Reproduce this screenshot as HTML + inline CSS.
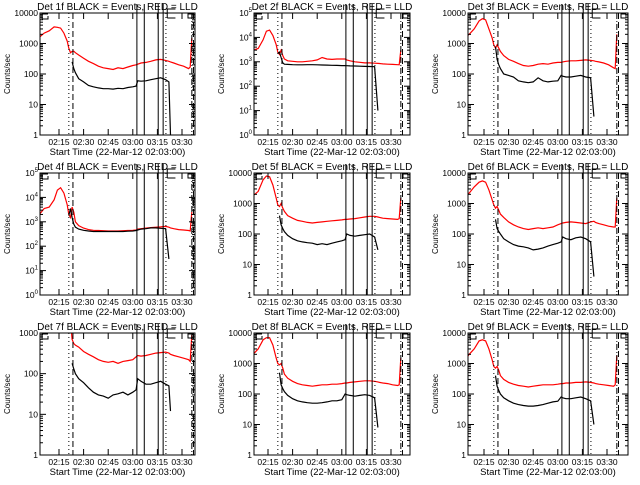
<!DOCTYPE html>
<html><head><meta charset="utf-8"><style>
body{margin:0;background:#fff}
svg{font-size:8px}
svg text{font-family:"Liberation Sans",sans-serif;fill:#000}
</style></head><body>
<svg id="c" width="640" height="480" viewBox="0 0 640 480"></svg>
<script>
// minutes after 02:15 (negative = before)
const times = [-12,-9,-6,-3,-1,1,3,5,6,7,8,9,10,12,15,18,21,24,27,30,33,36,39,42,45,47,48,50,53,56,59,62,65,67,68,70,73,76,79,80,81];
const xTickLabels = ["02:15","02:30","02:45","03:00","03:15","03:30"];
const xTickMinutes = [0,15,30,45,60,75];
const detNames = ["1f","2f","3f","4f","5f","6f","7f","8f","9f"];
const yDecades = [[0,4],[0,5],[0,4],[0,5],[0,4],[0,4],[0,3],[0,4],[0,4]];
const N=null;
const red1 = [1600,2200,2600,3500,3400,3200,2200,1200,700,500,550,560,500,420,330,260,220,180,160,150,140,160,150,170,190,200,210,230,240,260,290,300,280,260,250,230,200,180,150,170,1500];
const blk1 = [N,N,N,N,N,N,N,N,N,N,250,150,110,70,55,42,38,35,33,33,32,34,33,36,38,40,60,58,60,65,70,75,65,55,1,N,N,N,N,N,N];
const red2 = [2500,3000,3500,8000,18000,20000,12000,5000,2500,2000,3000,1800,1300,1100,1050,1000,1000,1050,1100,1200,1500,1300,1250,1300,1300,1300,1200,1100,1000,950,900,900,880,860,850,820,800,780,760,750,3000];
const blk2 = [N,N,N,N,N,N,N,N,2200,2500,1500,900,800,780,760,750,750,760,760,750,740,730,720,710,700,700,690,680,670,660,650,640,630,10,N,N,N,N,N,N,N];
const red3 = [1500,2000,3000,5500,6500,6000,3000,1500,900,700,900,700,550,400,300,260,220,190,180,190,210,220,210,230,240,240,250,260,270,270,280,290,280,270,260,250,230,200,160,150,2000];
const blk3 = [N,N,N,N,N,N,N,N,N,800,300,200,150,100,90,80,60,55,52,55,75,60,55,58,60,90,85,80,80,85,90,80,75,4,N,N,N,N,N,N,N];
const red4 = [2000,3500,4000,8000,20000,25000,15000,5000,2000,1500,4000,2500,1000,700,550,480,450,440,430,420,420,420,430,440,450,460,500,520,550,580,600,620,650,600,560,520,480,460,440,420,2500];
const blk4 = [N,N,N,N,N,N,N,N,1800,3500,1500,800,600,500,450,420,400,400,400,400,400,400,400,410,420,440,460,500,520,560,560,540,520,30,N,N,N,N,N,N,N];
const red5 = [1200,1800,2500,6000,8000,7500,4000,1500,900,800,1000,700,550,400,330,280,260,240,230,240,250,260,270,280,290,300,300,310,320,340,360,380,380,360,350,330,320,310,300,320,1500];
const blk5 = [N,N,N,N,N,N,N,N,N,400,200,150,120,90,70,60,55,52,50,45,48,45,50,55,60,65,100,90,85,90,95,100,80,30,N,N,N,N,N,N,N];
const red6 = [1500,2200,3500,5000,5500,5000,2800,1300,900,700,800,600,450,350,250,200,170,150,140,150,160,150,160,170,200,220,230,240,250,240,230,220,250,260,240,220,200,180,170,170,1500];
const blk6 = [N,N,N,N,N,N,N,N,N,300,150,120,100,70,55,45,40,38,35,30,32,35,40,45,50,55,80,70,65,75,80,70,55,4,N,N,N,N,N,N,N];
const red7 = [N,N,N,N,N,N,N,N,N,2000,700,550,500,450,350,300,260,220,200,190,200,180,200,210,220,260,280,270,280,300,320,330,340,320,300,280,260,240,220,200,900];
const blk7 = [N,N,N,N,N,N,N,N,N,N,180,130,100,75,60,45,35,30,28,25,30,32,35,30,35,40,75,65,55,55,60,65,55,50,12,N,N,N,N,N,N];
const red8 = [1200,2000,3000,6000,7000,7000,4000,1500,1000,900,1000,700,450,330,260,220,200,190,180,190,200,200,210,210,220,230,230,240,250,260,270,270,260,250,240,230,220,200,190,200,1500];
const blk8 = [N,N,N,N,N,N,N,N,N,500,200,150,120,90,70,60,55,52,50,50,52,55,60,60,65,100,95,90,85,90,95,90,75,8,N,N,N,N,N,N,N];
const red9 = [1200,2000,3000,5500,6000,5500,3000,1300,800,700,800,600,400,300,240,210,190,180,170,180,190,200,200,200,210,220,220,230,230,240,240,250,240,230,220,210,200,190,180,200,1800];
const blk9 = [N,N,N,N,N,N,N,N,N,400,180,130,100,75,60,50,45,42,40,40,42,45,50,55,58,80,75,70,70,75,80,70,60,10,N,N,N,N,N,N,N];
const reds=[red1,red2,red3,red4,red5,red6,red7,red8,red9];
const blks=[blk1,blk2,blk3,blk4,blk5,blk6,blk7,blk8,blk9];

const svg=document.getElementById('c');
const NS='http://www.w3.org/2000/svg';
function mk(t,a,p){const e=document.createElementNS(NS,t);for(const k in a)e.setAttribute(k,a[k]);(p||svg).appendChild(e);return e;}
const colX=[40,254,468], colW=[155,156,160], tick0=[19,14,16];
const rowY=[13,173,333], H=122, PPM=1.64;

for(let p=0;p<9;p++){
  const c=p%3,r=Math.floor(p/3);
  const x0=colX[c],y0=rowY[r],W=colW[c];
  const g=mk('g',{},svg);
  
  
  const [d0,d1]=yDecades[p];
  const xs=t=>x0+tick0[c]+t*PPM;
  const ys=v=>y0+H-(Math.log10(v)-d0)/(d1-d0)*H;
  const clipId='cl'+p;
  const cp=mk('clipPath',{id:clipId},g);mk('rect',{x:x0,y:y0,width:W,height:H},cp);
  function series(arr,col,name){
    let pts=[];const segs=[];
    times.forEach((t,i)=>{const v=arr[i];if(v==null){if(pts.length)segs.push(pts);pts=[];}else{pts.push(xs(t).toFixed(1)+','+ys(v).toFixed(1));}});
    if(pts.length)segs.push(pts);
    segs.forEach(s=>{const l=mk('polyline',{points:s.join(' '),fill:'none',stroke:col,'stroke-width':1.2,'clip-path':'url(#'+clipId+')'},g);
      
      });
  }
  series(reds[p],'#f00','red-lld-line');
  series(blks[p],'#000','black-events-line');
  const vl=[[6,'1,3',0],[8.5,'6,3',0],[47.5,'',1],[52,'',1],[60.5,'',1],[63.5,'',1],[65.2,'1,3',0],[81,'6,2,1,2',0],[82,'6,3',0]];
  vl.forEach(v=>{const x=xs(v[0]);const l=mk('line',{x1:x,x2:x,y1:v[2]?y0-9:y0,y2:y0+H,stroke:'#000','stroke-width':1,'stroke-dasharray':v[1]},g);
    
    });
  mk('path',{d:`M${x0+2} ${y0+6}V${y0+1}H${x0+8}M${x0+2} ${y0+6}H${x0+8}V${y0+3} M${xs(66)} ${y0+5}H${xs(71)}M${xs(66)} ${y0+5}V${y0-4}H${xs(71)} M${x0+W-2} ${y0+5}H${x0+W-7}V${y0+1}H${x0+W-2}`,fill:'none',stroke:'#000'},g);
  const b=mk('rect',{x:x0,y:y0,width:W,height:H,fill:'none',stroke:'#000','stroke-width':1},g);
  
  
  for(let d=d0;d<=d1;d++){
    const y=ys(Math.pow(10,d));
    mk('line',{x1:x0,x2:x0+6,y1:y,y2:y,stroke:'#000'},g);
    mk('line',{x1:x0+W-6,x2:x0+W,y1:y,y2:y,stroke:'#000'},g);
    const t=mk('text',{x:x0-2,y:y+3,'text-anchor':'end','font-size':8.5},g);
    
    
    if(d1===5){t.textContent='10';const s=mk('tspan',{dy:-4,'font-size':6},t);s.textContent=d;}
    else t.textContent=String(Math.pow(10,d));
    if(d<d1)for(let m=2;m<10;m++){const ym=ys(m*Math.pow(10,d));
      mk('line',{x1:x0,x2:x0+3,y1:ym,y2:ym,stroke:'#000'},g);
      mk('line',{x1:x0+W-3,x2:x0+W,y1:ym,y2:ym,stroke:'#000'},g);}
  }
  xTickMinutes.forEach((m,i)=>{const x=xs(m);
    mk('line',{x1:x,x2:x,y1:y0+H,y2:y0+H-6,stroke:'#000'},g);
    mk('line',{x1:x,x2:x,y1:y0,y2:y0+6,stroke:'#000'},g);
    const t=mk('text',{x:x,y:y0+H+10,'text-anchor':'middle','font-size':8.5},g);
    
    
    t.textContent=xTickLabels[i];});
  const tt=mk('text',{x:x0+W/2,y:y0-3,'text-anchor':'middle','font-size':10},g);
  
  
  tt.textContent='Det '+detNames[p]+' BLACK = Events, RED = LLD';
  const xl=mk('text',{x:x0+W/2,y:y0+H+20,'text-anchor':'middle','font-size':9.5},g);
  
  
  xl.textContent='Start Time (22-Mar-12 02:03:00)';
  const yl=mk('text',{x:0,y:0,'text-anchor':'middle','font-size':8,transform:`translate(${x0-30},${y0+H/2}) rotate(-90)`},g);
  
  
  yl.textContent='Counts/sec';
}
</script>
</body></html>
